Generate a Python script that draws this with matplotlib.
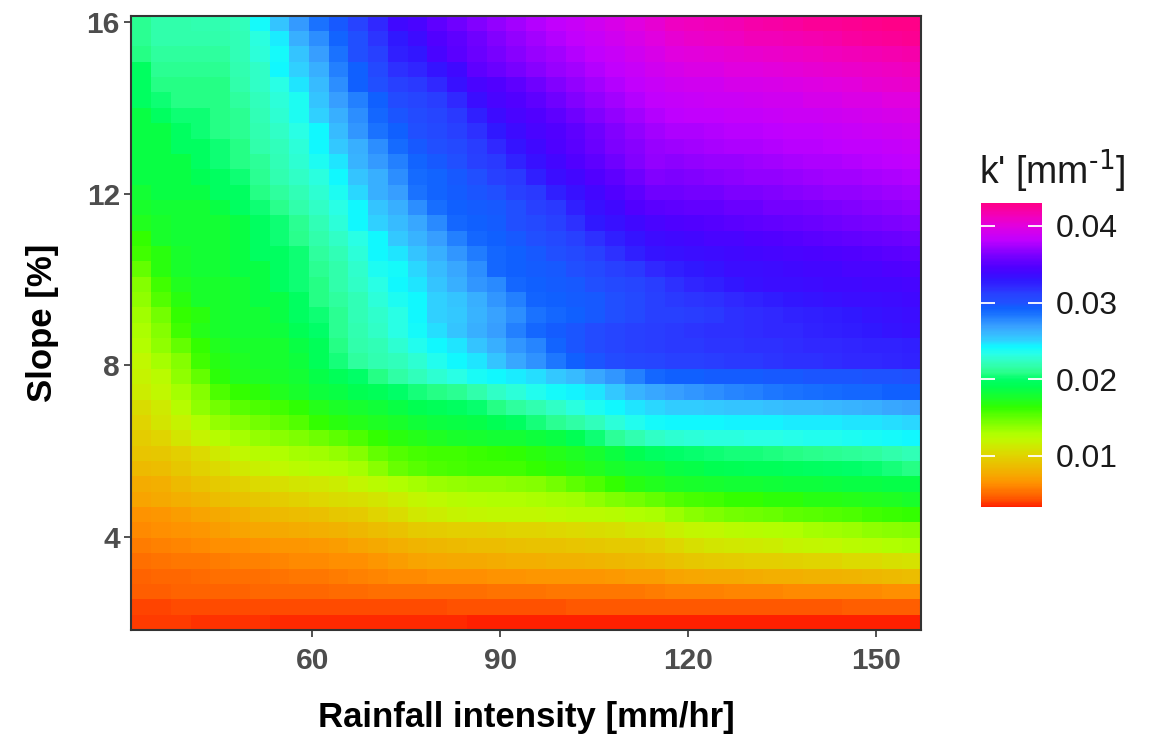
import numpy as np
import matplotlib
matplotlib.use('Agg')
import matplotlib.pyplot as plt
from matplotlib.colors import LinearSegmentedColormap

plt.rcParams['font.family'] = 'Liberation Sans'
plt.rcParams['mathtext.default'] = 'regular'

# grid centres (rainfall intensity in mm/hr, slope in %)
RAINFALL = [32.7, 35.9, 39.0, 42.2, 45.3, 48.5, 51.6, 54.8, 57.9, 61.1,
            64.2, 67.4, 70.5, 73.7, 76.8, 80.0, 83.1, 86.3, 89.4, 92.6,
            95.7, 98.9, 102.0, 105.2, 108.4, 111.5, 114.7, 117.8, 121.0, 124.1,
            127.3, 130.4, 133.6, 136.7, 139.9, 143.0, 146.2, 149.3, 152.5, 155.6]
SLOPE = [2.02, 2.38, 2.74, 3.09, 3.45, 3.81, 4.17, 4.52, 4.88, 5.24,
         5.60, 5.95, 6.31, 6.67, 7.03, 7.38, 7.74, 8.10, 8.46, 8.81,
         9.17, 9.53, 9.89, 10.24, 10.60, 10.96, 11.32, 11.67, 12.03, 12.39,
         12.75, 13.10, 13.46, 13.82, 14.18, 14.53, 14.89, 15.25, 15.61, 15.96]

# k' in 1e-4 mm^-1, rows from the top (slope 16) down to the bottom (slope 2)
K_E4 = [
    [211, 216, 216, 218, 218, 222, 240, 255, 271, 285, 296, 310, 321, 338, 342, 352, 358, 364, 368, 373, 378, 382, 386, 390, 395, 400, 405, 410, 412, 414, 416, 418, 420, 422, 424, 425, 426, 427, 429, 430],
    [211, 216, 216, 216, 216, 220, 230, 245, 264, 275, 291, 300, 316, 328, 336, 347, 352, 358, 364, 369, 374, 378, 382, 386, 390, 395, 400, 405, 407, 409, 411, 413, 414, 415, 417, 419, 421, 423, 425, 426],
    [208, 213, 213, 213, 213, 220, 229, 240, 256, 269, 285, 300, 311, 325, 330, 342, 350, 356, 361, 366, 370, 373, 378, 382, 386, 390, 395, 400, 401, 403, 404, 406, 407, 409, 410, 412, 413, 415, 417, 419],
    [196, 211, 211, 211, 211, 218, 225, 242, 251, 264, 281, 293, 305, 318, 322, 331, 338, 352, 356, 361, 366, 370, 373, 378, 382, 386, 390, 394, 396, 397, 399, 400, 402, 403, 405, 406, 408, 409, 411, 412],
    [196, 208, 208, 208, 208, 216, 225, 233, 247, 259, 275, 293, 300, 312, 315, 321, 333, 342, 347, 352, 358, 364, 368, 373, 378, 382, 386, 389, 390, 391, 393, 394, 395, 396, 398, 400, 402, 404, 406, 408],
    [196, 203, 208, 208, 208, 213, 222, 229, 237, 256, 269, 281, 293, 303, 308, 313, 321, 335, 342, 347, 352, 358, 364, 368, 373, 378, 382, 385, 386, 387, 388, 389, 390, 391, 393, 394, 396, 397, 399, 400],
    [186, 196, 203, 203, 208, 211, 220, 227, 237, 251, 264, 275, 290, 298, 303, 309, 315, 325, 336, 342, 347, 352, 358, 364, 368, 373, 378, 381, 382, 383, 384, 385, 386, 387, 388, 389, 391, 392, 394, 395],
    [186, 186, 196, 203, 208, 211, 218, 225, 233, 242, 259, 272, 285, 293, 300, 305, 311, 318, 328, 336, 342, 347, 352, 358, 364, 368, 373, 376, 377, 378, 379, 380, 381, 382, 383, 385, 386, 387, 389, 390],
    [186, 186, 196, 196, 203, 208, 216, 222, 229, 242, 254, 264, 275, 288, 296, 300, 305, 313, 321, 331, 338, 345, 350, 356, 362, 366, 370, 372, 373, 375, 376, 377, 378, 379, 380, 381, 382, 383, 385, 386],
    [186, 186, 186, 196, 203, 208, 212, 220, 227, 237, 247, 262, 271, 281, 291, 296, 300, 311, 315, 323, 333, 340, 347, 352, 358, 364, 368, 367, 368, 370, 371, 372, 374, 375, 376, 377, 378, 379, 381, 382],
    [186, 186, 186, 192, 196, 203, 210, 218, 225, 231, 242, 256, 264, 275, 288, 291, 296, 300, 311, 315, 325, 335, 340, 347, 352, 358, 364, 363, 364, 365, 367, 368, 369, 370, 372, 373, 374, 375, 377, 378],
    [180, 186, 186, 186, 196, 196, 208, 213, 220, 227, 237, 250, 264, 270, 285, 291, 294, 297, 300, 311, 315, 325, 333, 340, 347, 352, 358, 358, 359, 360, 362, 363, 364, 366, 367, 368, 369, 370, 372, 373],
    [176, 179, 179, 179, 186, 196, 203, 209, 216, 225, 233, 242, 256, 264, 276, 287, 292, 294, 296, 300, 311, 315, 325, 333, 338, 347, 350, 352, 353, 354, 356, 357, 359, 360, 361, 363, 364, 365, 367, 368],
    [172, 176, 179, 179, 179, 186, 196, 203, 211, 220, 229, 242, 251, 259, 267, 278, 290, 292, 294, 300, 305, 311, 318, 329, 333, 338, 342, 346, 347, 348, 350, 351, 353, 355, 356, 358, 359, 361, 362, 364],
    [163, 176, 179, 179, 179, 186, 196, 203, 209, 216, 225, 233, 242, 254, 262, 270, 280, 290, 292, 296, 300, 305, 311, 318, 325, 331, 336, 338, 340, 342, 343, 345, 347, 349, 350, 352, 354, 355, 357, 358],
    [159, 167, 176, 179, 179, 186, 196, 196, 203, 213, 220, 229, 242, 247, 256, 264, 272, 282, 290, 292, 296, 300, 305, 311, 318, 325, 331, 333, 334, 336, 338, 339, 341, 342, 344, 346, 347, 349, 350, 352],
    [150, 167, 176, 179, 179, 186, 186, 196, 203, 211, 217, 226, 237, 240, 250, 259, 267, 275, 289, 292, 294, 296, 300, 305, 311, 315, 321, 326, 329, 332, 334, 335, 336, 337, 339, 340, 342, 343, 345, 347],
    [141, 159, 172, 176, 176, 179, 186, 196, 203, 208, 216, 225, 233, 242, 247, 256, 264, 272, 278, 290, 292, 294, 296, 300, 305, 309, 313, 318, 322, 326, 330, 333, 334, 335, 336, 337, 338, 339, 340, 341],
    [137, 155, 167, 176, 176, 179, 186, 186, 196, 208, 214, 220, 229, 237, 242, 251, 256, 264, 272, 281, 291, 292, 294, 296, 300, 305, 311, 314, 316, 318, 321, 324, 327, 330, 332, 333, 334, 335, 336, 337],
    [133, 146, 163, 167, 176, 179, 179, 186, 196, 203, 211, 220, 226, 233, 242, 251, 254, 262, 268, 275, 285, 290, 293, 296, 300, 305, 311, 311, 313, 315, 317, 319, 321, 323, 325, 327, 329, 331, 333, 334],
    [130, 141, 159, 170, 176, 179, 179, 182, 192, 200, 211, 218, 225, 232, 240, 248, 256, 264, 270, 280, 290, 294, 298, 303, 308, 311, 313, 315, 316, 317, 318, 319, 320, 321, 323, 325, 327, 329, 331, 333],
    [127, 137, 150, 163, 172, 176, 176, 178, 186, 194, 208, 216, 220, 228, 236, 242, 247, 256, 264, 272, 279, 291, 298, 304, 308, 311, 313, 314, 315, 316, 316, 317, 318, 319, 320, 321, 322, 323, 324, 325],
    [121, 131, 141, 159, 169, 174, 176, 178, 182, 194, 205, 213, 218, 222, 228, 236, 242, 247, 256, 266, 274, 284, 292, 298, 303, 306, 309, 311, 312, 313, 314, 315, 316, 317, 318, 319, 320, 321, 322, 323],
    [118, 124, 137, 150, 165, 172, 174, 176, 180, 188, 194, 200, 207, 215, 222, 228, 233, 238, 242, 244, 248, 254, 259, 266, 272, 280, 289, 292, 293, 294, 295, 295, 296, 296, 297, 297, 298, 299, 299, 300],
    [114, 120, 131, 141, 157, 163, 166, 172, 176, 182, 186, 190, 194, 200, 205, 208, 211, 217, 224, 229, 236, 240, 243, 247, 254, 261, 266, 270, 273, 276, 279, 281, 283, 285, 286, 288, 289, 290, 292, 293],
    [105, 113, 126, 137, 146, 153, 157, 160, 164, 170, 175, 178, 181, 186, 190, 194, 197, 202, 207, 214, 219, 224, 231, 237, 241, 246, 250, 252, 253, 254, 255, 256, 257, 258, 259, 260, 262, 264, 266, 268],
    [100, 109, 117, 128, 136, 141, 146, 150, 155, 162, 167, 170, 174, 177, 181, 184, 186, 188, 192, 197, 205, 210, 215, 222, 229, 235, 240, 241, 242, 242, 243, 243, 243, 244, 244, 245, 246, 247, 248, 249],
    [96, 101, 110, 118, 126, 132, 136, 139, 143, 147, 152, 157, 162, 167, 171, 174, 176, 178, 179, 180, 182, 185, 192, 203, 212, 219, 225, 228, 229, 230, 231, 232, 233, 234, 235, 236, 237, 238, 240, 241],
    [91, 93, 97, 104, 113, 121, 126, 129, 131, 133, 136, 141, 150, 155, 158, 159, 160, 161, 162, 164, 167, 170, 173, 178, 184, 190, 196, 200, 202, 203, 204, 205, 206, 207, 209, 210, 212, 214, 217, 220],
    [85, 87, 92, 99, 104, 112, 116, 120, 124, 127, 129, 132, 139, 148, 153, 156, 158, 159, 159, 160, 162, 165, 168, 172, 176, 179, 181, 185, 188, 190, 192, 193, 194, 195, 196, 198, 200, 202, 205, 208],
    [77, 79, 85, 90, 94, 99, 103, 106, 109, 112, 115, 119, 124, 128, 131, 134, 136, 137, 138, 139, 141, 146, 152, 157, 163, 168, 172, 175, 177, 178, 179, 180, 181, 182, 183, 184, 185, 186, 187, 188],
    [73, 75, 78, 82, 86, 90, 93, 96, 99, 102, 105, 107, 110, 115, 119, 122, 125, 127, 128, 129, 130, 131, 133, 137, 142, 146, 150, 155, 158, 160, 162, 163, 165, 166, 168, 169, 171, 172, 174, 176],
    [65, 67, 69, 72, 75, 79, 83, 85, 87, 88, 92, 95, 100, 105, 111, 114, 117, 119, 120, 121, 121, 122, 123, 124, 126, 128, 130, 135, 139, 142, 145, 147, 149, 151, 153, 155, 157, 159, 161, 163],
    [62, 63, 65, 67, 69, 72, 74, 76, 77, 79, 81, 83, 86, 89, 94, 96, 97, 98, 99, 100, 101, 102, 104, 105, 107, 109, 111, 116, 119, 121, 123, 125, 127, 129, 131, 133, 135, 137, 139, 141],
    [57, 58, 60, 61, 63, 64, 65, 66, 67, 68, 70, 72, 75, 78, 82, 84, 85, 86, 87, 88, 89, 90, 91, 92, 94, 95, 97, 102, 106, 109, 111, 113, 115, 117, 119, 121, 123, 125, 128, 130],
    [52, 54, 55, 56, 57, 58, 59, 60, 61, 62, 63, 64, 66, 69, 72, 74, 75, 76, 77, 78, 79, 80, 81, 82, 84, 85, 86, 89, 92, 94, 96, 97, 98, 99, 100, 101, 103, 104, 106, 108],
    [48, 49, 50, 51, 52, 52, 53, 54, 55, 56, 57, 58, 60, 62, 62, 63, 64, 64, 65, 65, 66, 66, 67, 67, 68, 69, 70, 72, 74, 75, 76, 77, 78, 79, 80, 81, 82, 83, 85, 86],
    [46, 46, 47, 47, 48, 48, 49, 49, 50, 50, 51, 51, 52, 52, 52, 53, 53, 53, 54, 54, 54, 55, 55, 55, 56, 56, 57, 58, 59, 59, 60, 60, 60, 61, 61, 61, 62, 62, 63, 63],
    [40, 40, 41, 41, 41, 42, 42, 42, 42, 42, 42, 42, 42, 42, 42, 42, 43, 43, 43, 43, 43, 43, 44, 44, 44, 44, 44, 44, 44, 44, 45, 45, 45, 45, 45, 45, 46, 46, 46, 46],
    [38, 38, 38, 37, 37, 37, 37, 36, 36, 36, 36, 36, 36, 35, 35, 35, 35, 34, 34, 34, 34, 34, 34, 34, 34, 34, 34, 33, 33, 33, 33, 33, 33, 33, 33, 33, 33, 33, 33, 33],
]

CBAR_TICKS = [0.01, 0.02, 0.03, 0.04]
X_TICKS = [60, 90, 120, 150]
Y_TICKS = [4, 8, 12, 16]

# rainbow-like palette (value in 1e-4 units -> colour)
CMAP_STOPS = [33, 40, 46, 55, 63, 72, 81, 90, 100, 111, 120, 128, 137, 146, 155,
              163, 172, 181, 190, 200, 208, 216, 225, 233, 242, 251, 260, 269,
              278, 286, 293, 300, 312, 321, 329, 338, 347, 356, 364, 373, 382,
              391, 400, 412, 430]
CMAP_COLORS = ['#FF2000', '#FF4800', '#FF6000', '#FF7800', '#FF9000', '#F8A400',
               '#F0B400', '#E8C400', '#E0D400', '#D0E800', '#C0F800', '#B0FF00',
               '#90FF00', '#70FF00', '#50FF00', '#30FF00', '#20FF20', '#10FF38',
               '#00FF50', '#00FF68', '#28FF88', '#30FFA8', '#30FFC8', '#28FFE8',
               '#10F8FF', '#30D0FF', '#38B8FF', '#38A0FF', '#2888FF', '#1870FF',
               '#1060FF', '#2050FF', '#2840FF', '#3028FF', '#3018FF', '#4008FF',
               '#5000FF', '#6800FF', '#8000FF', '#A000FF', '#C000FF', '#D000F0',
               '#E000E0', '#F000C0', '#FF0088']

k = np.array(K_E4[::-1], dtype=float) / 1e4
vmin, vmax = k.min(), k.max()
pos = np.clip([(s / 1e4 - vmin) / (vmax - vmin) for s in CMAP_STOPS], 0, 1)
pos[0], pos[-1] = 0.0, 1.0
cmap = LinearSegmentedColormap.from_list('kprime', list(zip(pos, CMAP_COLORS)))

fig = plt.figure(figsize=(11.58, 7.38), dpi=100)
ax = fig.add_axes([131 / 1158, 1 - 630 / 738, 790 / 1158, 614 / 738])
mesh = ax.pcolormesh(RAINFALL, SLOPE, k, cmap=cmap, vmin=vmin, vmax=vmax,
                     shading='nearest')

ax.set_xticks(X_TICKS)
ax.set_yticks(Y_TICKS)
ax.tick_params(length=5, width=1.2, color='#333333', labelsize=21.5,
               labelcolor='#4D4D4D', pad=3)
ax.tick_params(axis='x', pad=7)
for lab in ax.get_xticklabels() + ax.get_yticklabels():
    lab.set_fontweight('bold')
for sp in ax.spines.values():
    sp.set_color('#333333')
    sp.set_linewidth(1.5)

ax.set_xlabel('Rainfall intensity [mm/hr]', fontsize=25, fontweight='bold', labelpad=19)
ax.set_ylabel('Slope [%]', fontsize=25, fontweight='bold', labelpad=20)

# colour bar in ggplot style
cax = fig.add_axes([981 / 1158, 1 - 507 / 738, 61 / 1158, 304 / 738])
cb = fig.colorbar(mesh, cax=cax, ticks=CBAR_TICKS)
cb.outline.set_visible(False)
cb.set_ticklabels(['0.01', '0.02', '0.03', '0.04'])
cax.tick_params(direction='in', length=10, width=1.3, color='white',
                left=True, right=True, labelsize=23, labelcolor='#1A1A1A', pad=10)
fig.text(979 / 1158, 1 - 184 / 738, r"k' [mm$^{\text{-1}}$]", fontsize=27,
         ha='left', va='baseline', color='#1A1A1A')

fig.savefig('out.png', dpi=100)
